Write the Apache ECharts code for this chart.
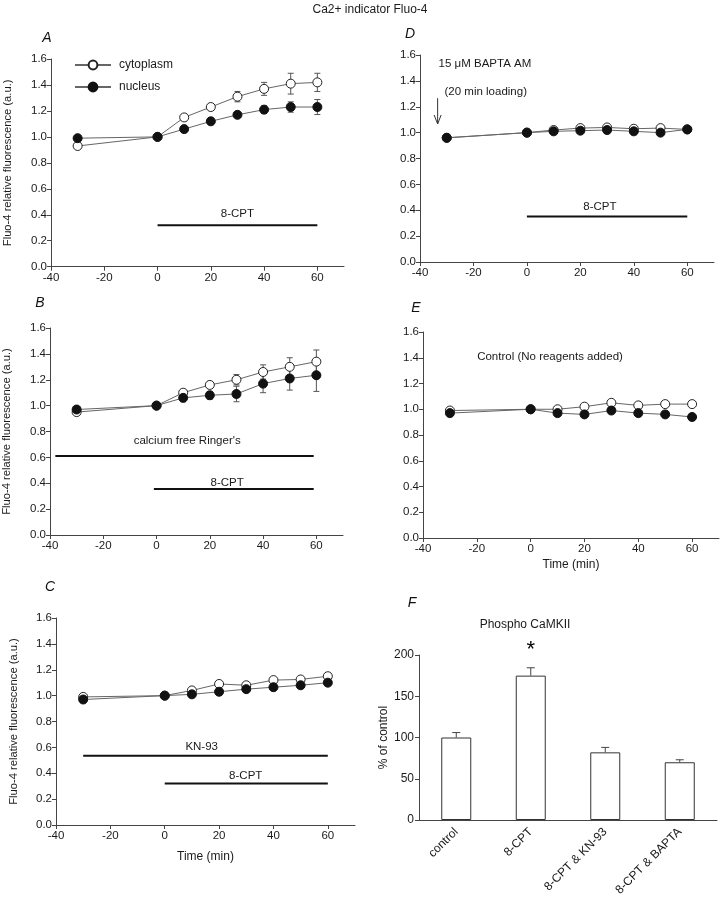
<!DOCTYPE html>
<html>
<head>
<meta charset="utf-8">
<script src="https://cdn.jsdelivr.net/npm/echarts@6/dist/echarts.min.js"></script>
<style>
html,body{margin:0;padding:0;background:#fff;}
#chart{width:720px;height:902px;}
</style>
</head>
<body>
<div id="chart"></div>
<script>
// ---------- data ----------
const timePoints = [-30, 0, 10, 20, 30, 40, 50, 60];
const xTicks = [-40, -20, 0, 20, 40, 60];

const A_cyto    = [0.93, 1.00, 1.15, 1.23, 1.31, 1.37, 1.41, 1.42];
const A_cytoErr = [0, 0, 0.01, 0.015, 0.04, 0.05, 0.08, 0.07];
const A_nuc     = [0.99, 1.00, 1.06, 1.12, 1.17, 1.21, 1.23, 1.23];
const A_nucErr  = [0, 0, 0.01, 0.015, 0.02, 0.03, 0.04, 0.058];

const B_cyto    = [0.95, 1.00, 1.10, 1.16, 1.20, 1.26, 1.30, 1.34];
const B_cytoErr = [0, 0, 0.015, 0.02, 0.04, 0.055, 0.07, 0.09];
const B_nuc     = [0.97, 1.00, 1.06, 1.08, 1.09, 1.17, 1.21, 1.235];
const B_nucErr  = [0, 0, 0.03, 0.03, 0.06, 0.07, 0.09, 0.125];

const C_cyto = [0.99, 1.00, 1.04, 1.09, 1.08, 1.12, 1.125, 1.15];
const C_nuc  = [0.97, 1.00, 1.01, 1.03, 1.05, 1.065, 1.08, 1.10];

const D_cyto = [0.96, 1.00, 1.02, 1.035, 1.04, 1.03, 1.035, 1.025];
const D_nuc  = [0.96, 1.00, 1.01, 1.015, 1.02, 1.01, 1.00, 1.025];

const E_cyto = [0.99, 1.00, 1.00, 1.02, 1.05, 1.03, 1.04, 1.04];
const E_nuc  = [0.97, 1.00, 0.97, 0.96, 0.99, 0.97, 0.96, 0.94];

// treatment bars: [start, end, level] and their labels [x, y, text]
const A_bars   = [[0, 60, 0.32]];
const A_labels = [[30, 0.41, '8-CPT']];
const B_bars   = [[-38, 59, 0.61], [-1, 59, 0.355]];
const B_labels = [[11.5, 0.728, "calcium free Ringer's"], [26.5, 0.404, '8-CPT']];
const C_bars   = [[-30, 60, 0.535], [0, 60, 0.32]];
const C_labels = [[13.6, 0.604, 'KN-93'], [29.8, 0.378, '8-CPT']];
const D_bars   = [[0, 60, 0.352]];
const D_labels = [[27.3, 0.43, '8-CPT'], [-15.7, 1.528, '15 \u03bcM BAPTA AM'], [-15.4, 1.317, '(20 min loading)']];
const D_arrow  = [[-33.4, 1.266, 1.067]];
const E_labels = [[7.2, 1.406, 'Control (No reagents added)']];

// panel F
const F_categories = ['control', '8-CPT', '8-CPT & KN-93', '8-CPT & BAPTA'];
const F_values = [100, 175, 82, 70];
const F_err = [6, 9.5, 6, 3];
const F_star = [[1, 206, '*']];

// ---------- helpers ----------
const AX = '#444';
const TXT = '#1a1a1a';
const FONT = 'Liberation Sans, Arial, Helvetica, sans-serif';

function xAxisFor(grid, name, nameGap) {
  return {
    gridIndex: grid, type: 'value', min: -40, max: 70, interval: 10,
    name: name || '', nameLocation: 'middle', nameGap: nameGap || 25,
    nameTextStyle: {color: TXT, fontSize: 12, fontFamily: FONT},
    axisLine: {show: true, onZero: false, lineStyle: {color: AX, width: 1}},
    axisTick: {show: true, length: 4, lineStyle: {color: AX}, customValues: xTicks},
    axisLabel: {color: TXT, fontSize: 11.5, fontFamily: FONT, margin: 5, customValues: xTicks},
    splitLine: {show: false}
  };
}
function yAxisFor(grid, name, nameGap) {
  return {
    gridIndex: grid, type: 'value', min: 0, max: 1.6, interval: 0.2,
    name: name || '', nameLocation: 'middle', nameGap: nameGap || 30,
    nameTextStyle: {color: TXT, fontSize: 11.2, fontFamily: FONT},
    axisLine: {show: true, onZero: false, lineStyle: {color: AX, width: 1}},
    axisTick: {show: true, length: 4, lineStyle: {color: AX}},
    axisLabel: {color: TXT, fontSize: 11.5, fontFamily: FONT, margin: 4,
      formatter: v => v.toFixed(1)},
    splitLine: {show: false}
  };
}

function errRender(params, api) {
  const x = api.value(0), lo = api.value(1), hi = api.value(2);
  const p1 = api.coord([x, lo]), p2 = api.coord([x, hi]);
  const w = 3;
  const st = {stroke: '#555', lineWidth: 1};
  return {type: 'group', children: [
    {type: 'line', shape: {x1: p1[0], y1: p1[1], x2: p2[0], y2: p2[1]}, style: st},
    {type: 'line', shape: {x1: p1[0] - w, y1: p1[1], x2: p1[0] + w, y2: p1[1]}, style: st},
    {type: 'line', shape: {x1: p2[0] - w, y1: p2[1], x2: p2[0] + w, y2: p2[1]}, style: st}
  ]};
}

function errSeries(g, vals, errs) {
  const data = [];
  vals.forEach((v, i) => { if (errs[i] > 0) data.push([timePoints[i], v - errs[i], v + errs[i]]); });
  return {type: 'custom', xAxisIndex: g, yAxisIndex: g, renderItem: errRender, data: data, z: 1, silent: true};
}

function dataSeries(g, name, vals, open) {
  return {
    type: 'line', name: name, xAxisIndex: g, yAxisIndex: g,
    data: vals.map((v, i) => [timePoints[i], v]),
    symbol: 'circle', symbolSize: 9, showAllSymbol: true,
    lineStyle: {color: '#666', width: 1},
    itemStyle: open ? {color: '#fff', borderColor: '#222', borderWidth: 1}
                    : {color: '#111', borderColor: '#111', borderWidth: 1},
    emphasis: {disabled: true}, z: 3, animation: false
  };
}

function barLines(g, bars) {
  return bars.map(b => ({
    type: 'line', xAxisIndex: g, yAxisIndex: g,
    data: [[b[0], b[2]], [b[1], b[2]]], symbol: 'none',
    lineStyle: {color: '#111', width: 2}, silent: true, z: 2, animation: false
  }));
}

// text annotations drawn by a custom series at data coordinates
function textSeries(g, labels, fontSize, color) {
  return {
    type: 'custom', xAxisIndex: g, yAxisIndex: g, silent: true, z: 4, clip: false,
    data: labels.map(l => [l[0], l[1]]),
    renderItem: function (params, api) {
      const p = api.coord([api.value(0), api.value(1)]);
      return {
        type: 'text', x: p[0], y: p[1],
        style: {
          text: labels[params.dataIndex][2],
          fill: color || TXT,
          font: (fontSize || 11.5) + 'px ' + FONT,
          textAlign: 'center', textVerticalAlign: 'middle'
        }
      };
    }
  };
}

function arrowRender(params, api) {
  const x = api.value(0), yt = api.value(1), yb = api.value(2);
  const p1 = api.coord([x, yt]), p2 = api.coord([x, yb]);
  const st = {stroke: '#333', lineWidth: 1, fill: null};
  return {type: 'group', children: [
    {type: 'line', shape: {x1: p1[0], y1: p1[1], x2: p2[0], y2: p2[1]}, style: st},
    {type: 'polyline', shape: {points: [[p2[0] - 3.5, p2[1] - 9], [p2[0], p2[1]], [p2[0] + 3.5, p2[1] - 9]]}, style: st}
  ]};
}

// ---------- layout ----------
const grids = [
  {left: 51, top: 59, width: 293, height: 207.7},   // A
  {left: 50, top: 328, width: 293, height: 207},    // B
  {left: 56, top: 618, width: 299, height: 207},    // C
  {left: 420, top: 55, width: 294, height: 207},    // D
  {left: 423, top: 332, width: 296, height: 206},   // E
  {left: 419, top: 655, width: 298, height: 165}    // F
];

const yName = 'Fluo-4 relative fluorescence (a.u.)';
const xAxes = [
  xAxisFor(0), xAxisFor(1), xAxisFor(2, 'Time (min)', 26),
  xAxisFor(3), xAxisFor(4, 'Time (min)', 21),
  {
    gridIndex: 5, type: 'category', data: F_categories, boundaryGap: true,
    axisLine: {show: true, onZero: false, lineStyle: {color: AX}},
    axisTick: {show: false},
    axisLabel: {color: TXT, fontSize: 12, fontFamily: FONT, rotate: 45, margin: 10, interval: 0}
  }
];
const yAxes = [
  yAxisFor(0, yName, 38), yAxisFor(1, yName, 38), yAxisFor(2, yName, 37),
  yAxisFor(3), yAxisFor(4),
  {
    gridIndex: 5, type: 'value', min: 0, max: 200, interval: 50,
    name: '% of control', nameLocation: 'middle', nameGap: 26,
    nameTextStyle: {color: TXT, fontSize: 12, fontFamily: FONT},
    axisLine: {show: true, onZero: false, lineStyle: {color: AX}},
    axisTick: {show: true, length: 4, lineStyle: {color: AX}},
    axisLabel: {color: TXT, fontSize: 12, fontFamily: FONT, margin: 5},
    splitLine: {show: false}
  }
];

const series = [
  // A
  errSeries(0, A_cyto, A_cytoErr), errSeries(0, A_nuc, A_nucErr),
  dataSeries(0, 'cytoplasm', A_cyto, true), dataSeries(0, 'nucleus', A_nuc, false),
  ...barLines(0, A_bars), textSeries(0, A_labels),
  // B
  errSeries(1, B_cyto, B_cytoErr), errSeries(1, B_nuc, B_nucErr),
  dataSeries(1, 'B cytoplasm', B_cyto, true), dataSeries(1, 'B nucleus', B_nuc, false),
  ...barLines(1, B_bars), textSeries(1, B_labels),
  // C
  dataSeries(2, 'C cytoplasm', C_cyto, true), dataSeries(2, 'C nucleus', C_nuc, false),
  ...barLines(2, C_bars), textSeries(2, C_labels),
  // D
  dataSeries(3, 'D cytoplasm', D_cyto, true), dataSeries(3, 'D nucleus', D_nuc, false),
  ...barLines(3, D_bars), textSeries(3, D_labels),
  {type: 'custom', xAxisIndex: 3, yAxisIndex: 3, renderItem: arrowRender, data: D_arrow, silent: true, z: 2},
  // E
  dataSeries(4, 'E cytoplasm', E_cyto, true), dataSeries(4, 'E nucleus', E_nuc, false),
  textSeries(4, E_labels),
  // F
  {
    type: 'bar', xAxisIndex: 5, yAxisIndex: 5, data: F_values, barWidth: 30,
    itemStyle: {color: '#fff', borderColor: '#333', borderWidth: 1},
    silent: true, z: 2, animation: false
  },
  {
    type: 'custom', xAxisIndex: 5, yAxisIndex: 5, silent: true, z: 1,
    data: F_values.map((v, i) => [i, v, v + F_err[i]]),
    renderItem: function (params, api) {
      const p1 = api.coord([api.value(0), api.value(1)]);
      const p2 = api.coord([api.value(0), api.value(2)]);
      const st = {stroke: '#444', lineWidth: 1};
      return {type: 'group', children: [
        {type: 'line', shape: {x1: p1[0], y1: p1[1], x2: p2[0], y2: p2[1]}, style: st},
        {type: 'line', shape: {x1: p2[0] - 4, y1: p2[1], x2: p2[0] + 4, y2: p2[1]}, style: st}
      ]};
    }
  },
  textSeries(5, F_star, 22, '#000')
];

const graphic = [
  {type: 'text', x: 370, y: 10, style: {text: 'Ca2+ indicator Fluo-4', fill: TXT, font: '12px ' + FONT, textAlign: 'center', textVerticalAlign: 'middle'}},
  {type: 'text', x: 47, y: 38, style: {text: 'A', fill: '#111', font: 'italic 14px ' + FONT, textAlign: 'center', textVerticalAlign: 'middle'}},
  {type: 'text', x: 40, y: 303, style: {text: 'B', fill: '#111', font: 'italic 14px ' + FONT, textAlign: 'center', textVerticalAlign: 'middle'}},
  {type: 'text', x: 50, y: 587, style: {text: 'C', fill: '#111', font: 'italic 14px ' + FONT, textAlign: 'center', textVerticalAlign: 'middle'}},
  {type: 'text', x: 410, y: 34, style: {text: 'D', fill: '#111', font: 'italic 14px ' + FONT, textAlign: 'center', textVerticalAlign: 'middle'}},
  {type: 'text', x: 416, y: 308, style: {text: 'E', fill: '#111', font: 'italic 14px ' + FONT, textAlign: 'center', textVerticalAlign: 'middle'}},
  {type: 'text', x: 412, y: 603, style: {text: 'F', fill: '#111', font: 'italic 14px ' + FONT, textAlign: 'center', textVerticalAlign: 'middle'}},
  {type: 'text', x: 525, y: 625, style: {text: 'Phospho CaMKII', fill: TXT, font: '12px ' + FONT, textAlign: 'center', textVerticalAlign: 'middle'}}
];

const chart = echarts.init(document.getElementById('chart'), null, {renderer: 'canvas'});
chart.setOption({
  animation: false,
  backgroundColor: '#fff',
  textStyle: {fontFamily: FONT},
  grid: grids,
  xAxis: xAxes,
  yAxis: yAxes,
  legend: {
    data: ['cytoplasm', 'nucleus'], orient: 'vertical', left: 74, top: 59,
    itemWidth: 36, itemHeight: 11, itemGap: 10, selectedMode: false,
    textStyle: {color: TXT, fontSize: 12, fontFamily: FONT, padding: [0, 0, 0, 3]},
    padding: 0
  },
  graphic: graphic,
  series: series
});
</script>
</body>
</html>
